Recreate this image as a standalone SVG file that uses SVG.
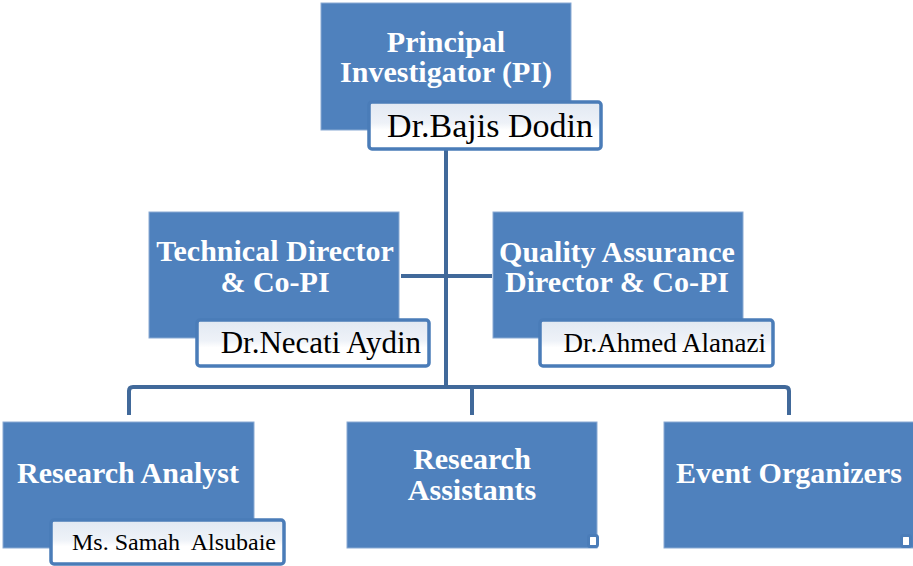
<svg xmlns="http://www.w3.org/2000/svg" width="913" height="566" viewBox="0 0 913 566">
<defs>
<linearGradient id="ng" x1="0" y1="0" x2="0" y2="1">
<stop offset="0" stop-color="#e1e8f2"/>
<stop offset="0.45" stop-color="#eef2f8"/>
<stop offset="0.6" stop-color="#ffffff"/>
<stop offset="1" stop-color="#ffffff"/>
</linearGradient>
<style>
.box{fill:#4f81bd;stroke:#8aaad3;stroke-width:1}
.name{fill:url(#ng);stroke:#4a7cb8;stroke-width:3.5}
.title{font-family:"Liberation Serif","Times New Roman",serif;font-weight:bold;font-size:30px;fill:#ffffff;text-anchor:middle}
.nm{font-family:"Liberation Serif","Times New Roman",serif;fill:#000000;text-anchor:end;white-space:pre}
.conn{fill:none;stroke:#41699a;stroke-width:4}
.dot{fill:#ffffff;stroke:#4a7cb8;stroke-width:3}
</style>
</defs>
<rect width="913" height="566" fill="#ffffff"/>
<g id="connectors">
<path class="conn" d="M446,148 V387"/>
<path class="conn" d="M401,276 H492"/>
<path class="conn" d="M129,415 V391 Q129,387 133,387 H785 Q789,387 789,391 V415"/>
<path class="conn" d="M472,387 V415"/>
</g>
<g id="pi">
<rect class="box" x="321" y="3" width="250" height="127"/>
<text class="title" x="446" y="52">Principal</text>
<text class="title" x="446" y="82">Investigator (PI)</text>
<rect class="name" x="369" y="102" width="232" height="47" rx="3"/>
<text class="nm" x="593" y="137" font-size="34">Dr.Bajis Dodin</text>
</g>
<g id="tech">
<rect class="box" x="149" y="212" width="250" height="126"/>
<text class="title" x="275" y="261">Technical Director</text>
<text class="title" x="275" y="292">&amp; Co-PI</text>
<rect class="name" x="197" y="320" width="232" height="46" rx="3"/>
<text class="nm" x="421" y="353" font-size="31">Dr.Necati Aydin</text>
</g>
<g id="qa">
<rect class="box" x="493" y="212" width="250" height="126"/>
<text class="title" x="617" y="262">Quality Assurance</text>
<text class="title" x="617" y="292">Director &amp; Co-PI</text>
<rect class="name" x="540" y="320" width="233" height="46" rx="3"/>
<text class="nm" x="766" y="352" font-size="27">Dr.Ahmed Alanazi</text>
</g>
<g id="analyst">
<rect class="box" x="3" y="422" width="251" height="126"/>
<text class="title" x="128" y="483">Research Analyst</text>
<rect class="name" x="51" y="520" width="233" height="44" rx="3"/>
<text class="nm" x="276" y="550" font-size="24">Ms. Samah  Alsubaie</text>
</g>
<g id="assistants">
<rect class="box" x="347" y="422" width="250" height="126"/>
<text class="title" x="472" y="469">Research</text>
<text class="title" x="472" y="500">Assistants</text>
<rect class="dot" x="588.5" y="535.5" width="9" height="11" rx="2"/>
</g>
<g id="events">
<rect class="box" x="664" y="422" width="250" height="126"/>
<text class="title" x="789" y="483">Event Organizers</text>
<rect class="dot" x="901.5" y="535.5" width="9" height="11" rx="2"/>
</g>
</svg>
